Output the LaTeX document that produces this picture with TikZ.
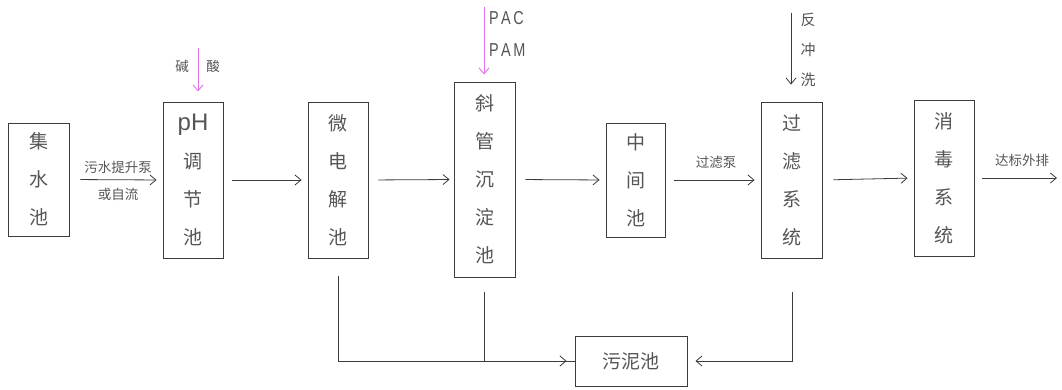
\documentclass[tikz,border=0pt]{standalone}
\usepackage{fontspec}
\newfontfamily\cjk{Noto Sans CJK SC}
\newfontfamily\lat{Liberation Sans}
\usetikzlibrary{arrows.meta}
\definecolor{ln}{RGB}{60,60,60}
\definecolor{tx}{RGB}{85,85,85}
\definecolor{pk}{RGB}{225,115,230}
\begin{document}
\begin{tikzpicture}[x=1pt,y=-1pt,
  tank/.style={draw=ln,line width=0.9pt,inner sep=0pt,align=center,text=tx,
    font=\cjk\fontsize{19}{38}\selectfont},
  lbl/.style={text=tx,inner sep=0pt,font=\cjk\fontsize{13.5}{16}\selectfont},
  flow/.style={draw=ln,line width=0.8pt,-{Straight Barb[length=6pt,width=10pt]}},
  pipe/.style={draw=ln,line width=0.8pt},
  dose/.style={draw=pk,line width=0.9pt,-{Straight Barb[length=6pt,width=10pt]}}]
\useasboundingbox (0,0) rectangle (1062,390);
\fill[white] (0,0) rectangle (1062,390);

% tanks
\node[tank,minimum width=61pt,minimum height=113pt] (b1) at (38.5,179.5) {集\\水\\池};
\node[tank,minimum width=60pt,minimum height=156pt] (b2) at (193,180) {{\lat\fontsize{24}{38}\selectfont pH}\\调\\节\\池};
\node[tank,minimum width=60pt,minimum height=156pt] (b3) at (338,180) {微\\电\\解\\池};
\node[tank,minimum width=61pt,minimum height=195pt] (b4) at (484.5,179.5) {斜\\管\\沉\\淀\\池};
\node[tank,minimum width=59pt,minimum height=114pt] (b5) at (635.5,180) {中\\间\\池};
\node[tank,minimum width=61pt,minimum height=156pt] (b6) at (791.5,180) {过\\滤\\系\\统};
\node[tank,minimum width=60pt,minimum height=156pt] (b7) at (944,178) {消\\毒\\系\\统};
\node[tank,minimum width=112pt,minimum height=50pt] (b8) at (631,361) {污泥池};

% main flow
\draw[flow,shorten <=11pt,shorten >=6pt] (b1.east) -- (b2.west);
\node[lbl] (l1) at (118,167) {污水提升泵};
\node[lbl] (l2) at (118,194) {或自流};
\draw[flow,shorten <=9pt,shorten >=6pt] (b2.east) -- (b3.west);
\draw[flow,shorten <=10pt,shorten >=4pt] (b3.east) -- (b4.west);
\draw[flow,shorten <=10pt,shorten >=6pt] (b4.east) -- (b5.west);
\draw[flow,shorten <=9pt,shorten >=6pt] (b5.east) -- (b6.west);
\node[lbl] (l3) at (716,162) {过滤泵};
\draw[flow,shorten <=11pt,shorten >=6pt] (b6.east) -- (b7.west);
\coordinate (out) at (1057,178);
\draw[flow,shorten <=8pt] (b7.east) -- (out);
\node[lbl] (l4) at (1022,160) {达标外排};

% dosing
\coordinate (d1) at (198,48);
\draw[dose,shorten >=10pt] (d1) -- (d1 |- b2.north);
\node[lbl] (jian) at (182,66) {碱};
\node[lbl] (suan) at (213,66) {酸};
\coordinate (d2) at (484,7);
\draw[dose,shorten >=7pt] (d2) -- (d2 |- b4.north);
\node[text=tx,anchor=west,inner sep=0pt,font=\lat\fontsize{17}{20}\selectfont] (pac) at (489,18) {\scalebox{0.85}[1.1]{P\,A\,C}};
\node[text=tx,anchor=west,inner sep=0pt,font=\lat\fontsize{17}{20}\selectfont] (pam) at (489,50) {\scalebox{0.85}[1.1]{P\,A\,M}};
\coordinate (d3) at (791,13);
\draw[flow,shorten >=17pt] (d3) -- (d3 |- b6.north);
\node[lbl,font=\cjk\fontsize{15}{30}\selectfont,align=center] (fcx) at (808,50) {反\\冲\\洗};

% sludge
\coordinate (s1) at (338,276);
\coordinate (s2) at (484,292);
\coordinate (s3) at (792,292);
\draw[pipe] (s1) |- (b8.west);
\draw[pipe] (s2) -- (s2 |- b8.west);
\draw[flow,shorten >=8pt] (s1 |- b8.west) -- (b8.west);
\draw[flow,shorten >=8pt] (s3) |- (b8.east);
\end{tikzpicture}
\end{document}
